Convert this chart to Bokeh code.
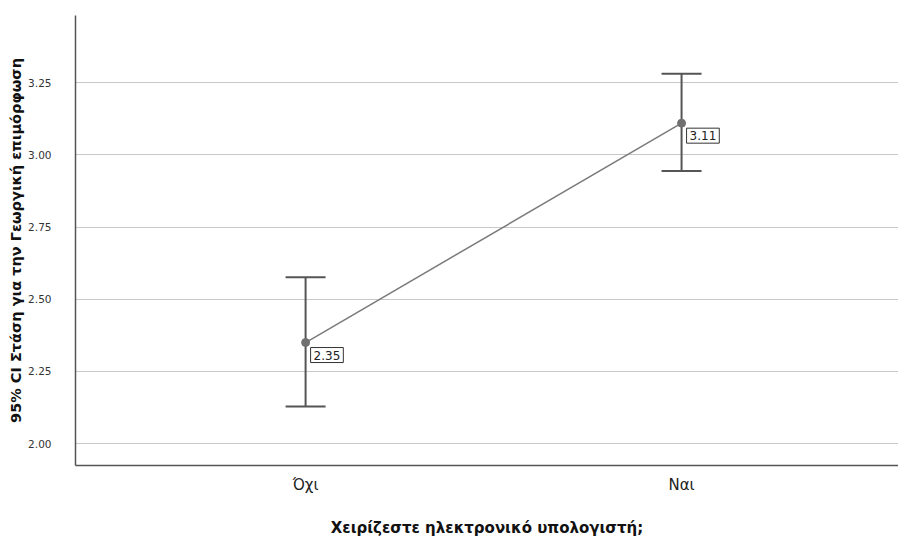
from bokeh.plotting import figure
from bokeh.models import Whisker, TeeHead, ColumnDataSource, Label, FixedTicker, Range1d, PrintfTickFormatter
from bokeh.embed import file_html
from bokeh.resources import INLINE

categories = ["Όχι", "Ναι"]
cat_pos = [1, 2]
means = [2.35, 3.11]
ci_low = [2.128, 2.944]
ci_high = [2.576, 3.281]
mean_labels = ["2.35", "3.11"]
y_ticks = [2.00, 2.25, 2.50, 2.75, 3.00, 3.25]

FONT = "DejaVu Sans"

p = figure(width=898, height=543, output_backend="svg", toolbar_location=None,
           x_range=Range1d(0.388, 2.577), y_range=Range1d(1.924, 3.483),
           min_border_left=75, min_border_right=0, min_border_top=15, min_border_bottom=78)
p.outline_line_color = None
p.background_fill_color = "white"

src = ColumnDataSource(dict(x=cat_pos, m=means, lo=ci_low, hi=ci_high))

p.line("x", "m", source=src, line_color="#7a7a7a", line_width=1.5)
w = Whisker(base="x", upper="hi", lower="lo", source=src, dimension="height",
            line_color="#555555", line_width=2,
            upper_head=TeeHead(size=40, line_color="#555555", line_width=2),
            lower_head=TeeHead(size=40, line_color="#555555", line_width=2))
p.add_layout(w)
p.scatter("x", "m", source=src, size=8, fill_color="#707070", line_color="#707070")

for xv, mv, lab in zip(cat_pos, means, mean_labels):
    p.add_layout(Label(x=xv, y=mv, text=lab, x_offset=5, y_offset=-5,
                       text_baseline="top", text_align="left",
                       text_font=FONT, text_font_size="12px", text_color="#222222",
                       border_line_color="#333333", border_line_width=1,
                       background_fill_color="white", padding=3))

# axes
p.xaxis.ticker = FixedTicker(ticks=cat_pos)
p.xaxis.major_label_overrides = {c: n for c, n in zip(cat_pos, categories)}
p.xaxis.major_tick_line_color = None
p.xaxis.minor_tick_line_color = None
p.xaxis.axis_line_color = "#555555"
p.xaxis.axis_line_width = 1.5
p.xaxis.major_label_text_font = FONT
p.xaxis.major_label_text_font_size = "15px"
p.xaxis.major_label_text_color = "#222222"
p.xaxis.major_label_standoff = 4
p.xaxis.axis_label = "Χειρίζεστε ηλεκτρονικό υπολογιστή;"
p.xaxis.axis_label_text_font = FONT
p.xaxis.axis_label_text_font_size = "15px"
p.xaxis.axis_label_text_font_style = "bold"
p.xaxis.axis_label_text_color = "#111111"
p.xaxis.axis_label_standoff = 22

p.yaxis.ticker = FixedTicker(ticks=y_ticks)
p.yaxis.formatter = PrintfTickFormatter(format="%.2f")
p.yaxis.major_tick_line_color = None
p.yaxis.minor_tick_line_color = None
p.yaxis.axis_line_color = "#555555"
p.yaxis.axis_line_width = 1.5
p.yaxis.major_label_text_font = FONT
p.yaxis.major_label_text_font_size = "10.5px"
p.yaxis.major_label_text_color = "#333333"
p.yaxis.major_label_standoff = 18
p.yaxis.axis_label = "95% CI Στάση για την Γεωργική επιμόρφωση"
p.yaxis.axis_label_text_font = FONT
p.yaxis.axis_label_text_font_size = "14.5px"
p.yaxis.axis_label_text_font_style = "bold"
p.yaxis.axis_label_text_color = "#111111"
p.yaxis.axis_label_standoff = 1

p.xgrid.grid_line_color = None
p.ygrid.grid_line_color = "#c8c8c8"
p.ygrid.grid_line_width = 1

open("out.html", "w").write(file_html(p, INLINE))
